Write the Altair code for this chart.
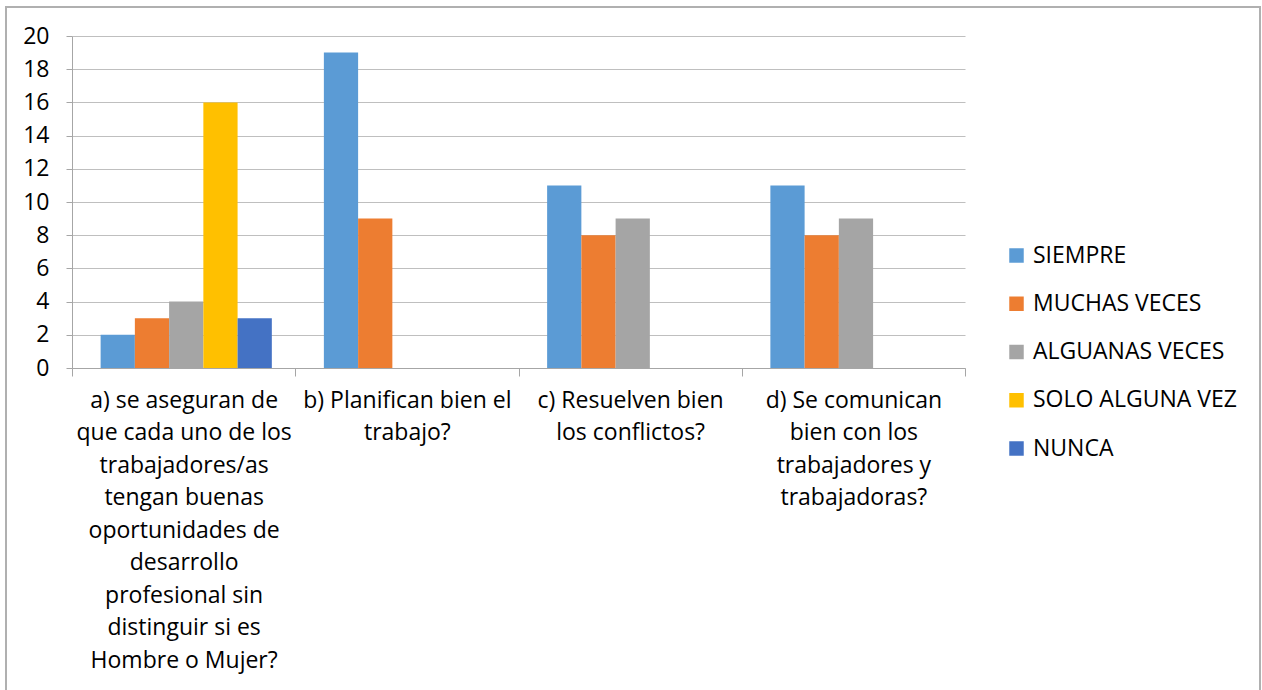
import altair as alt
import pandas as pd

categories = [
    "a) se aseguran de|que cada uno de los|trabajadores/as|tengan buenas|oportunidades de|desarrollo|profesional sin|distinguir si es|Hombre o Mujer?",
    "b) Planifican bien el|trabajo?",
    "c) Resuelven bien|los conflictos?",
    "d) Se comunican|bien con los|trabajadores y|trabajadoras?",
]
series = ["SIEMPRE", "MUCHAS VECES", "ALGUANAS VECES", "SOLO ALGUNA VEZ", "NUNCA"]
colors = ["#5B9BD5", "#ED7D31", "#A5A5A5", "#FFC000", "#4472C4"]

values = {
    "SIEMPRE": [2, 19, 11, 11],
    "MUCHAS VECES": [3, 9, 8, 8],
    "ALGUANAS VECES": [4, None, 9, 9],
    "SOLO ALGUNA VEZ": [16, None, None, None],
    "NUNCA": [3, None, None, None],
}

rows = []
for s in series:
    for c, v in zip(categories, values[s]):
        if v is not None:
            rows.append({"cat": c, "serie": s, "valor": v})
df = pd.DataFrame(rows)

FONT = "Open Sans"
FS = 23

bars = alt.Chart(df).mark_bar().encode(
    x=alt.X(
        "cat:N",
        sort=categories,
        title=None,
        scale=alt.Scale(paddingInner=0, paddingOuter=0),
        axis=alt.Axis(
            labelAngle=0,
            labelExpr="split(datum.label, '|')",
            labelFontSize=FS,
            labelLineHeight=32.5,
            labelPadding=13,
            labelColor="#000000",
            labelFont=FONT,
            tickBand="extent",
            tickSize=8,
            tickColor="#A6A6A6",
            domainColor="#A6A6A6",
            labelLimit=300,
            grid=False,
        ),
    ),
    xOffset=alt.XOffset(
        "serie:N",
        sort=series,
        scale=alt.Scale(domain=series, paddingInner=0, paddingOuter=0.76, align=0.55),
    ),
    y=alt.Y(
        "valor:Q",
        title=None,
        scale=alt.Scale(domain=[0, 20], nice=False),
        axis=alt.Axis(
            values=list(range(0, 21, 2)),
            labelFontSize=FS,
            labelColor="#000000",
            labelFont=FONT,
            labelPadding=17,
            tickSize=6,
            tickColor="#A6A6A6",
            domainColor="#A6A6A6",
            gridColor="#BFBFBF",
            grid=True,
        ),
    ),
    color=alt.Color(
        "serie:N",
        sort=series,
        scale=alt.Scale(domain=series, range=colors),
        legend=alt.Legend(
            title=None,
            orient="none",
            legendX=933,
            legendY=208,
            symbolType="square",
            symbolSize=210,
            symbolStrokeWidth=0,
            labelFontSize=FS,
            labelFont=FONT,
            labelColor="#000000",
            labelOffset=5,
            rowPadding=24.25,
            labelLimit=300,
        ),
    ),
)

border_df = pd.DataFrame({"k": [1]})
border = alt.Chart(border_df).mark_rect(fill=None, stroke="#B0B0B0", strokeWidth=2).encode(
    x=alt.value(-66), x2=alt.value(1188), y=alt.value(-29), y2=alt.value(720)
)

chart = alt.layer(border, bars).properties(
    width=893,
    height=332,
    autosize=alt.AutoSizeParams(type="none"),
    padding={"left": 72, "top": 36, "right": 297, "bottom": 322},
    background="#FFFFFF",
).configure_view(stroke=None)

chart.save("out.html", embed_options={"renderer": "svg", "actions": False})
